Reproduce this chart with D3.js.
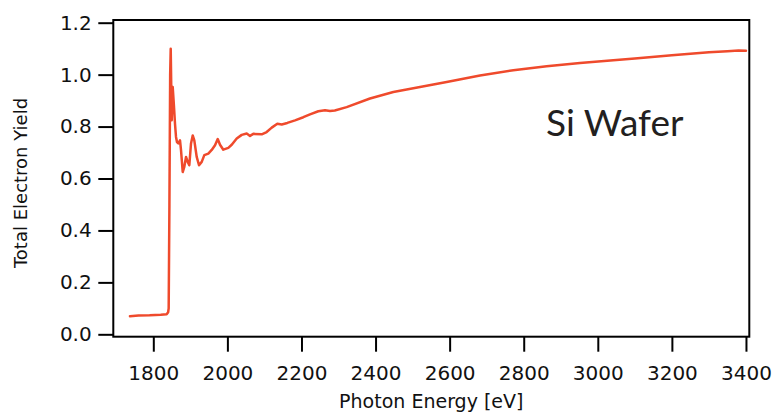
<!DOCTYPE html>
<html>
<head>
<meta charset="utf-8">
<script src="https://cdn.jsdelivr.net/npm/d3@7"></script>
<style>
  html, body { margin: 0; padding: 0; background: #ffffff; }
  svg { display: block; }
</style>
</head>
<body>
<svg id="chart" width="773" height="414"></svg>
<script>
// Photon energy (eV)
const energy = [1737, 1760, 1790, 1820, 1836, 1840, 1841.5, 1843.5, 1845.5, 1847,
  1849.7, 1851, 1852.4, 1855.9, 1858.6, 1861.3, 1864, 1867.5, 1872.1, 1874.8,
  1879.4, 1883.7, 1888.3, 1892.9, 1897.2, 1901.8, 1906.4, 1910.7, 1917.2, 1923.4,
  1930.7, 1937.7, 1948.5, 1957.7, 1966.6, 1973.9, 1980.1, 1989, 2002.5, 2011.7,
  2025.2, 2038.7, 2052.2, 2061.1, 2070, 2092.7, 2106, 2119.7, 2134.8, 2146.7,
  2161.8, 2182.6, 2205, 2223, 2245.5, 2263.6, 2277, 2290, 2322, 2385,
  2448, 2520, 2592, 2682, 2772, 2862, 2952, 3042, 3100, 3200,
  3300, 3350, 3380, 3400];
// Total electron yield
const yieldValues = [0.070, 0.072, 0.073, 0.075, 0.077, 0.085, 0.10, 0.50, 1.00, 1.10,
  0.824, 0.90, 0.952, 0.875, 0.81, 0.76, 0.74, 0.735, 0.747, 0.709,
  0.625, 0.645, 0.683, 0.664, 0.651, 0.735, 0.766, 0.747, 0.683, 0.651,
  0.664, 0.69, 0.696, 0.71, 0.728, 0.752, 0.73, 0.711, 0.718, 0.73,
  0.754, 0.768, 0.773, 0.764, 0.772, 0.77, 0.779, 0.796, 0.811, 0.808,
  0.814, 0.824, 0.836, 0.847, 0.859, 0.863, 0.86, 0.862, 0.875, 0.908,
  0.933, 0.952, 0.972, 0.997, 1.017, 1.032, 1.045, 1.055, 1.062, 1.075,
  1.086, 1.09, 1.093, 1.092];
const xTicks = [1800, 2000, 2200, 2400, 2600, 2800, 3000, 3200, 3400];
const yTicks = [0.0, 0.2, 0.4, 0.6, 0.8, 1.0, 1.2];
const xTitle = "Photon Energy [eV]";
const yTitle = "Total Electron Yield";
const sampleLabel = "Si Wafer";

(function () {
const svg = d3.select("#chart");
const mLeft = 113.3, mRight = 749.3, mTop = 20, mBottom = 336.7;

const x = d3.scaleLinear().domain([1692, 3409]).range([mLeft, mRight]);
const y = d3.scaleLinear().domain([-0.0092, 1.2104]).range([mBottom, mTop]);

const data = energy.map((e, i) => ({ e, v: yieldValues[i] }));

const tickFont = "'DejaVu Sans', sans-serif";

// X axis
const gx = svg.append("g")
  .attr("transform", `translate(0,${mBottom})`)
  .call(d3.axisBottom(x).tickValues(xTicks).tickSize(15).tickPadding(14).tickFormat(d3.format("d")));
gx.select(".domain").remove();
gx.selectAll(".tick line").attr("stroke", "#000").attr("stroke-width", 2);
gx.selectAll(".tick text").attr("font-family", tickFont).attr("font-size", 20).attr("fill", "#111");

// Y axis
const gy = svg.append("g")
  .attr("transform", `translate(${mLeft},0)`)
  .call(d3.axisLeft(y).tickValues(yTicks).tickSize(15).tickPadding(6.6).tickFormat(d3.format(".1f")));
gy.select(".domain").remove();
gy.selectAll(".tick line").attr("stroke", "#000").attr("stroke-width", 2);
gy.selectAll(".tick text").attr("font-family", tickFont).attr("font-size", 20).attr("fill", "#111");

// Frame
svg.append("rect")
  .attr("x", mLeft).attr("y", mTop)
  .attr("width", mRight - mLeft).attr("height", mBottom - mTop)
  .attr("fill", "none").attr("stroke", "#000").attr("stroke-width", 2);

// Line
const line = d3.line().x(d => x(d.e)).y(d => y(d.v));
svg.append("path")
  .datum(data)
  .attr("d", line)
  .attr("fill", "none")
  .attr("stroke", "#ef4a2c")
  .attr("stroke-width", 2.5)
  .attr("stroke-linejoin", "round")
  .attr("stroke-linecap", "round");

// Titles
svg.append("text")
  .attr("x", (mLeft + mRight) / 2).attr("y", 408)
  .attr("text-anchor", "middle")
  .attr("font-family", tickFont).attr("font-size", 19).attr("fill", "#111")
  .text(xTitle);

svg.append("text")
  .attr("transform", "translate(27,183) rotate(-90)")
  .attr("text-anchor", "middle")
  .attr("font-family", tickFont).attr("font-size", 18).attr("fill", "#111")
  .text(yTitle);

svg.append("text")
  .attr("x", 546).attr("y", 135.7)
  .attr("font-family", "Lato, 'Open Sans', sans-serif").attr("font-size", 37).attr("fill", "#231f20")
  .text(sampleLabel);
})();
</script>
</body>
</html>
